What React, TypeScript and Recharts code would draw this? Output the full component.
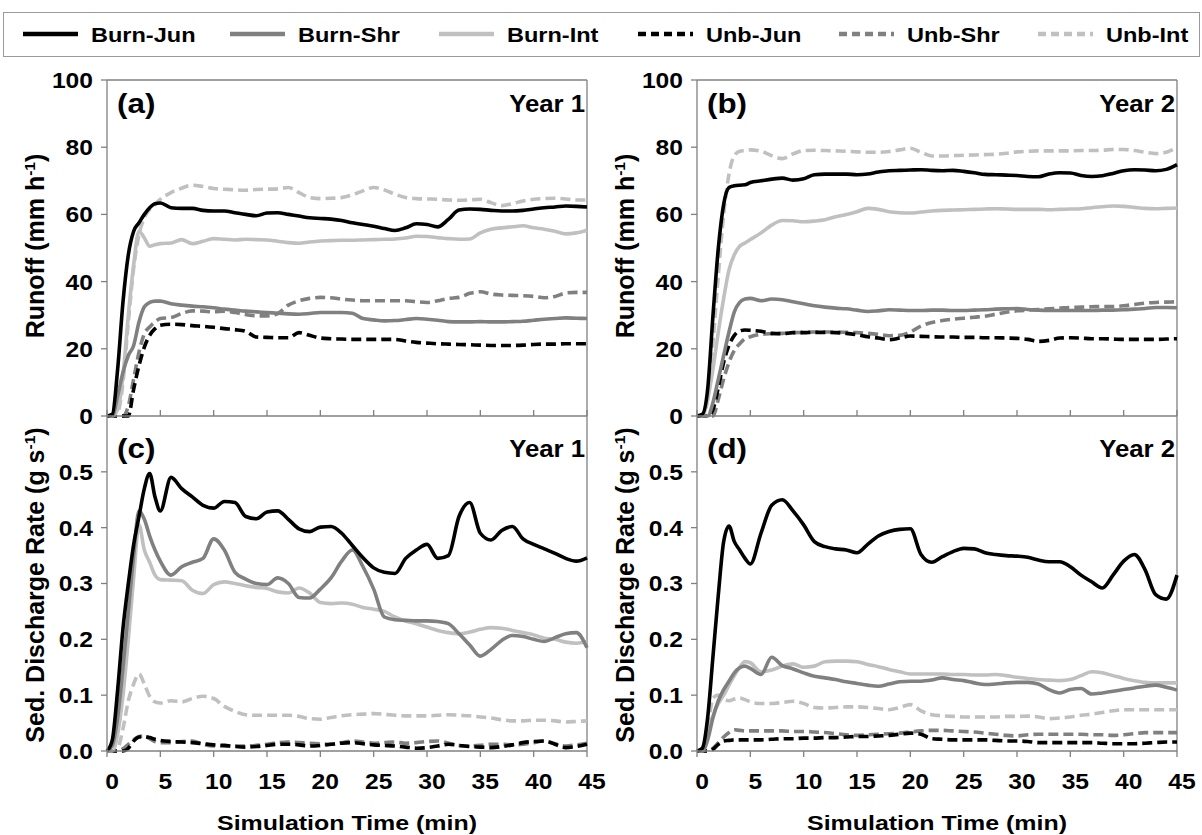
import React from 'react';
import { LineChart, Line, XAxis, YAxis, ReferenceLine } from 'recharts';

// simulation time (min)
const times = [0, 0.5, 1, 1.5, 2, 2.5, 3, 3.5, 4, 4.5, 5,
  6, 7, 8, 9, 10, 11, 12, 13, 14, 15,
  16, 17, 18, 19, 20, 21, 22, 23, 24, 25,
  26, 27, 28, 29, 30, 31, 32, 33, 34, 35,
  36, 37, 38, 39, 40, 41, 42, 43, 44, 45];

const xTicks = [0, 5, 10, 15, 20, 25, 30, 35, 40, 45];
const runoffTicks = [0, 20, 40, 60, 80, 100];
const sedTicks = [0, 0.1, 0.2, 0.3, 0.4, 0.5];

// (a) runoff, year 1 (mm/h)
const burnJunA = [0, 0.5, 14, 34, 48, 55, 57.5, 60, 62, 63.2, 63.4,
  62, 61.8, 61.8, 61.2, 61, 61, 60.5, 60, 59.6, 60.4,
  60.5, 60, 59.5, 59, 58.8, 58.6, 58.2, 57.5, 57, 56.5,
  55.8, 55.2, 56, 57.2, 57, 56.3, 58.5, 61.3, 61.6, 61.5,
  61.2, 61, 61, 61.2, 61.6, 62, 62.2, 62.5, 62.4, 62.2];
const burnShrA = [0, 0, 6, 13, 18, 21, 28, 32.5, 33.8, 34.2, 34.2,
  33.4, 33, 32.7, 32.5, 32.2, 31.8, 31.5, 31.2, 31, 30.8,
  30.6, 30.4, 30.3, 30.5, 30.8, 30.8, 30.8, 30.6, 29, 28.6,
  28.3, 28.4, 28.7, 29, 28.8, 28.5, 28.1, 28, 28, 28.1,
  28, 28, 28.1, 28.2, 28.5, 28.8, 29, 29.2, 29.1, 29];
const burnIntA = [0, 0, 2, 12, 30, 45, 55, 53, 50.5, 51, 51.3,
  51.5, 52.5, 51.3, 52, 52.8, 52.6, 52.4, 52.6, 52.5, 52.4,
  52, 51.6, 51.4, 51.8, 52.1, 52.2, 52.3, 52.3, 52.4, 52.5,
  52.6, 52.7, 53, 53.5, 53.4, 53.1, 52.8, 52.6, 52.7, 54.5,
  55.6, 56, 56.3, 56.6, 56, 55.6, 55, 54.2, 54.5, 55.3];
const unbJunA = [0, 0, 0, 0, 0, 8, 15, 20.5, 24, 26, 27,
  27.3, 27.2, 26.9, 26.7, 26.4, 26, 25.7, 25.2, 23.5, 23.4,
  23.3, 23.3, 24.8, 24, 23.2, 23, 22.9, 22.8, 22.8, 22.8,
  22.8, 22.8, 22.3, 21.9, 21.7, 21.5, 21.4, 21.3, 21.2, 21.1,
  21, 21, 21, 21.1, 21.3, 21.4, 21.4, 21.5, 21.5, 21.5];
const unbShrA = [0, 0, 0, 0, 3, 11, 19, 24.5, 26.5, 28, 29,
  29.3, 30.5, 31.3, 31.2, 31, 31.2, 30.8, 30.2, 29.8, 29.8,
  30.5, 33, 34.3, 35, 35.3, 35.2, 34.8, 34.5, 34.3, 34.3,
  34.3, 34.3, 34.3, 34, 33.8, 34.3, 35, 35.3, 36.5, 37,
  36.3, 36, 35.9, 35.8, 35.6, 35.2, 35.6, 36.6, 36.8, 36.8];
const unbIntA = [0, 0, 1, 10, 28, 44, 54, 59, 61.5, 63, 64.5,
  66.5, 67.8, 68.7, 68.3, 67.7, 67.5, 67.3, 67.2, 67.4, 67.5,
  67.6, 68, 66.5, 65, 64.7, 64.8, 65, 65.8, 67, 68,
  67.3, 66, 65, 64.7, 64.6, 64.5, 64.3, 64.2, 64.3, 64.5,
  63.5, 62.6, 63.2, 64, 64.5, 64.7, 64.8, 64.6, 64.3, 64.3];

// (b) runoff, year 2 (mm/h)
const burnJunB = [0, 0.5, 8, 30, 50, 63, 68, 68.5, 68.7, 68.8, 69.5,
  70, 70.5, 70.8, 70.2, 70.6, 71.8, 72, 72, 72, 71.8,
  72, 72.6, 73, 73.1, 73.2, 73.3, 73.1, 73, 73.1, 72.8,
  72.4, 71.9, 71.8, 71.7, 71.6, 71.3, 71.2, 72, 72.4, 72.3,
  71.6, 71.3, 71.5, 72.2, 73, 73.3, 73.2, 73, 73.4, 74.8];
const burnShrB = [0, 0, 0, 4, 11, 18, 25, 31, 33.8, 34.8, 35,
  34.3, 34.8, 34.6, 34, 33.4, 32.8, 32.4, 32.1, 31.9, 31.5,
  31.1, 31.3, 31.6, 31.5, 31.4, 31.4, 31.5, 31.5, 31.4, 31.4,
  31.5, 31.6, 31.8, 31.9, 32, 31.7, 31.5, 31.4, 31.4, 31.4,
  31.4, 31.4, 31.5, 31.5, 31.6, 31.8, 32, 32.3, 32.3, 32.2];
const burnIntB = [0, 0, 5, 14, 25, 35, 43.5, 48, 50.5, 51.5, 52.5,
  54.5, 56.8, 58.2, 58.1, 57.8, 58, 58.4, 59.3, 60, 60.8,
  61.8, 61.5, 60.8, 60.5, 60.4, 60.7, 61, 61.2, 61.3, 61.4,
  61.5, 61.6, 61.7, 61.6, 61.5, 61.5, 61.5, 61.4, 61.5, 61.6,
  61.7, 62, 62.3, 62.5, 62.4, 62.1, 61.8, 61.7, 61.8, 61.9];
const unbJunB = [0, 0, 0, 2, 8.5, 16, 21, 24, 25.3, 25.6, 25.5,
  25.2, 24.6, 24.5, 24.8, 24.8, 24.9, 24.9, 24.8, 24.6, 24.2,
  23.6, 23.2, 22.7, 23.2, 23.8, 23.7, 23.6, 23.5, 23.5, 23.4,
  23.4, 23.3, 23.3, 23.2, 23.1, 22.8, 22.2, 22.5, 23.2, 23.3,
  23.2, 23, 23, 22.9, 22.8, 22.8, 22.8, 22.8, 22.9, 23];
const unbShrB = [0, 0, 0, 0, 5, 11, 16, 19.5, 21.5, 23, 23.6,
  24.3, 24.5, 24.6, 24.8, 24.9, 25, 25, 25, 24.9, 24.8,
  24.6, 24.3, 23.9, 24, 25, 26.8, 27.8, 28.4, 28.8, 29.1,
  29.4, 29.7, 30.3, 30.9, 31.3, 31.5, 31.7, 31.9, 32.1, 32.3,
  32.4, 32.5, 32.6, 32.6, 32.8, 33.2, 33.6, 33.8, 33.9, 34];
const unbIntB = [0, 0, 5, 22, 42, 60, 72, 77.5, 78.8, 79, 79.2,
  78.8, 77.5, 76.6, 78, 79, 79.1, 79, 78.9, 78.8, 78.6,
  78.5, 78.5, 78.7, 79.2, 79.7, 78.5, 77.4, 77.4, 77.5, 77.6,
  77.7, 77.8, 77.9, 78.2, 78.6, 78.8, 78.9, 78.9, 78.9, 78.9,
  79, 79, 79.1, 79.3, 79.3, 79, 78.5, 78.1, 78.5, 79.9];

// (c) sediment discharge, year 1 (g/s)
const burnJunC = [0, 0.02, 0.11, 0.22, 0.3, 0.37, 0.42, 0.47, 0.497, 0.455, 0.43,
  0.49, 0.47, 0.455, 0.44, 0.435, 0.447, 0.445, 0.42, 0.416, 0.428,
  0.43, 0.415, 0.398, 0.393, 0.401, 0.402, 0.39, 0.368, 0.346, 0.328,
  0.32, 0.318, 0.345, 0.36, 0.37, 0.345, 0.35, 0.42, 0.445, 0.39,
  0.378, 0.395, 0.402, 0.38, 0.37, 0.362, 0.354, 0.345, 0.34, 0.346];
const burnShrC = [0, 0.01, 0.06, 0.15, 0.25, 0.35, 0.43, 0.415, 0.385, 0.36, 0.34,
  0.315, 0.33, 0.338, 0.345, 0.38, 0.36, 0.32, 0.308, 0.3, 0.298,
  0.31, 0.3, 0.275, 0.274, 0.29, 0.31, 0.34, 0.36, 0.33, 0.29,
  0.24, 0.235, 0.234, 0.233, 0.233, 0.232, 0.228, 0.21, 0.19, 0.17,
  0.182, 0.198, 0.207, 0.205, 0.2, 0.196, 0.203, 0.21, 0.212, 0.185];
const burnIntC = [0, 0, 0.03, 0.1, 0.2, 0.31, 0.405, 0.36, 0.338, 0.315, 0.307,
  0.306, 0.305, 0.288, 0.282, 0.298, 0.303, 0.3, 0.296, 0.293, 0.291,
  0.285, 0.283, 0.292, 0.283, 0.266, 0.264, 0.265, 0.263, 0.257, 0.254,
  0.25, 0.24, 0.233, 0.228, 0.222, 0.216, 0.212, 0.21, 0.213, 0.218,
  0.221, 0.22, 0.216, 0.212, 0.208, 0.202, 0.2, 0.195, 0.193, 0.196];
const unbJunC = [0, 0, 0, 0, 0.005, 0.018, 0.025, 0.026, 0.024, 0.021, 0.019,
  0.017, 0.016, 0.015, 0.013, 0.011, 0.01, 0.008, 0.007, 0.008, 0.01,
  0.012, 0.012, 0.011, 0.009, 0.01, 0.012, 0.014, 0.015, 0.013, 0.011,
  0.01, 0.009, 0.007, 0.005, 0.006, 0.009, 0.012, 0.01, 0.008, 0.007,
  0.006, 0.008, 0.011, 0.015, 0.017, 0.018, 0.012, 0.006, 0.008, 0.012];
const unbShrC = [0, 0, 0, 0.004, 0.012, 0.02, 0.026, 0.027, 0.022, 0.017, 0.015,
  0.015, 0.017, 0.018, 0.012, 0.009, 0.009, 0.009, 0.009, 0.01, 0.012,
  0.015, 0.016, 0.015, 0.014, 0.013, 0.012, 0.015, 0.018, 0.016, 0.014,
  0.015, 0.016, 0.014, 0.015, 0.017, 0.018, 0.014, 0.01, 0.009, 0.01,
  0.012, 0.012, 0.011, 0.012, 0.015, 0.018, 0.013, 0.009, 0.011, 0.014];
const unbIntC = [0, 0, 0.005, 0.04, 0.09, 0.12, 0.138, 0.12, 0.098, 0.088, 0.086,
  0.09, 0.088, 0.094, 0.098, 0.094, 0.08, 0.071, 0.065, 0.064, 0.064,
  0.064, 0.064, 0.062, 0.058, 0.057, 0.06, 0.063, 0.065, 0.066, 0.067,
  0.066, 0.064, 0.063, 0.063, 0.063, 0.064, 0.065, 0.064, 0.063, 0.061,
  0.059, 0.056, 0.054, 0.054, 0.055, 0.055, 0.054, 0.052, 0.053, 0.054];

// (d) sediment discharge, year 2 (g/s)
const burnJunD = [0, 0.005, 0.06, 0.17, 0.28, 0.375, 0.403, 0.375, 0.36, 0.345, 0.335,
  0.39, 0.44, 0.45, 0.43, 0.405, 0.375, 0.366, 0.362, 0.36, 0.355,
  0.37, 0.385, 0.393, 0.397, 0.398, 0.352, 0.338, 0.348, 0.357, 0.363,
  0.362, 0.355, 0.352, 0.35, 0.349, 0.347, 0.342, 0.339, 0.339, 0.33,
  0.315, 0.303, 0.292, 0.315, 0.34, 0.352, 0.325, 0.28, 0.272, 0.315];
const burnShrD = [0, 0, 0.02, 0.06, 0.09, 0.11, 0.125, 0.14, 0.149, 0.152, 0.148,
  0.137, 0.168, 0.153, 0.147, 0.14, 0.134, 0.131, 0.128, 0.124, 0.121,
  0.118, 0.116, 0.12, 0.124, 0.125, 0.125, 0.127, 0.131, 0.128, 0.126,
  0.122, 0.119, 0.12, 0.122, 0.123, 0.123, 0.12, 0.11, 0.104, 0.11,
  0.112, 0.102, 0.104, 0.107, 0.11, 0.113, 0.116, 0.118, 0.114, 0.109];
const burnIntD = [0, 0, 0.03, 0.063, 0.085, 0.1, 0.118, 0.135, 0.15, 0.16, 0.158,
  0.142, 0.145, 0.152, 0.156, 0.15, 0.152, 0.16, 0.161, 0.161, 0.16,
  0.155, 0.151, 0.146, 0.142, 0.138, 0.138, 0.138, 0.138, 0.137, 0.137,
  0.136, 0.136, 0.137, 0.135, 0.132, 0.13, 0.128, 0.127, 0.126, 0.128,
  0.135, 0.142, 0.14, 0.135, 0.13, 0.126, 0.123, 0.122, 0.122, 0.122];
const unbJunD = [0, 0, 0, 0.003, 0.012, 0.018, 0.019, 0.02, 0.02, 0.02, 0.02,
  0.02, 0.021, 0.022, 0.022, 0.023, 0.023, 0.024, 0.024, 0.025, 0.026,
  0.026, 0.027, 0.028, 0.03, 0.032, 0.03, 0.022, 0.021, 0.02, 0.02,
  0.02, 0.02, 0.019, 0.018, 0.018, 0.017, 0.015, 0.015, 0.015, 0.015,
  0.015, 0.015, 0.014, 0.013, 0.013, 0.013, 0.014, 0.015, 0.016, 0.016];
const unbShrD = [0, 0, 0, 0.005, 0.015, 0.025, 0.033, 0.038, 0.037, 0.036, 0.036,
  0.036, 0.036, 0.036, 0.035, 0.035, 0.034, 0.033, 0.031, 0.029, 0.028,
  0.029, 0.03, 0.031, 0.032, 0.034, 0.036, 0.037, 0.037, 0.036, 0.035,
  0.034, 0.032, 0.03, 0.028, 0.027, 0.029, 0.03, 0.03, 0.03, 0.03,
  0.03, 0.029, 0.029, 0.028, 0.029, 0.031, 0.033, 0.033, 0.033, 0.033];
const unbIntD = [0, 0, 0.04, 0.095, 0.1, 0.092, 0.09, 0.093, 0.095, 0.092, 0.088,
  0.085, 0.085, 0.087, 0.089, 0.085, 0.078, 0.077, 0.078, 0.079, 0.079,
  0.078, 0.076, 0.074, 0.078, 0.083, 0.072, 0.065, 0.063, 0.062, 0.061,
  0.061, 0.061, 0.061, 0.062, 0.062, 0.0625, 0.061, 0.058, 0.059, 0.061,
  0.064, 0.066, 0.069, 0.072, 0.074, 0.074, 0.074, 0.074, 0.074, 0.074];

const FONT = '"Liberation Sans", Arial, Helvetica, sans-serif';
const SX = 1.12; // the source figure is a little wider than Arial

// legend order; drawing order is reversed so Burn-Jun ends up on top
const series = [
  { key: 'burnJun', name: 'Burn-Jun', color: '#000000', dash: undefined },
  { key: 'burnShr', name: 'Burn-Shr', color: '#808080', dash: undefined },
  { key: 'burnInt', name: 'Burn-Int', color: '#c0c0c0', dash: undefined },
  { key: 'unbJun', name: 'Unb-Jun', color: '#000000', dash: '10 5' },
  { key: 'unbShr', name: 'Unb-Shr', color: '#808080', dash: '10 5' },
  { key: 'unbInt', name: 'Unb-Int', color: '#c0c0c0', dash: '10 5' },
];

const buildRows = (bj: number[], bs: number[], bi: number[], uj: number[], us: number[], ui: number[]) =>
  times.map((t, i) => ({
    t,
    burnJun: bj[i], burnShr: bs[i], burnInt: bi[i],
    unbJun: uj[i], unbShr: us[i], unbInt: ui[i],
  }));

const rowsA = buildRows(burnJunA, burnShrA, burnIntA, unbJunA, unbShrA, unbIntA);
const rowsB = buildRows(burnJunB, burnShrB, burnIntB, unbJunB, unbShrB, unbIntB);
const rowsC = buildRows(burnJunC, burnShrC, burnIntC, unbJunC, unbShrC, unbIntC);
const rowsD = buildRows(burnJunD, burnShrD, burnIntD, unbJunD, unbShrD, unbIntD);

const stretch = (x: number, y: number) => `translate(${x} ${y}) scale(${SX} 1) translate(${-x} ${-y})`;

const yTick = (digits: number) => (props: any) => {
  const { x, y, payload } = props;
  return (
    <text x={x} y={y} dy="0.36em" textAnchor="end" fontSize={22} fontWeight="bold"
      fontFamily={FONT} fill="#000" transform={stretch(x, y)}>
      {Number(payload.value).toFixed(digits)}
    </text>
  );
};

const xTick = (props: any) => {
  const { x, y, payload } = props;
  return (
    <text x={x + 5} y={y} dy="0.71em" textAnchor="middle" fontSize={22} fontWeight="bold"
      fontFamily={FONT} fill="#000" transform={stretch(x + 5, y)}>
      {payload.value}
    </text>
  );
};

const noTick = () => <g />;

const AXIS = '#808080';

interface PanelProps {
  rows: any[];
  left: number;
  top: number;
  width: number;
  height: number;
  margin: { top: number; right: number; bottom: number; left: number };
  yMax: number;
  yTicks: number[];
  digits: number;
  bottom: boolean;
}

function Panel({ rows, left, top, width, height, margin, yMax, yTicks, digits, bottom }: PanelProps) {
  return (
    <div style={{ position: 'absolute', left, top }}>
      <LineChart width={width} height={height} data={rows} margin={margin}>
        <XAxis
          dataKey="t"
          type="number"
          domain={[0, 45]}
          ticks={xTicks}
          height={bottom ? 40 : 4}
          axisLine={{ stroke: AXIS, strokeWidth: 1.3 }}
          tickLine={{ stroke: AXIS, strokeWidth: 1.3 }}
          tickSize={bottom ? 6 : -6}
          tickMargin={bottom ? 16 : 0}
          tick={bottom ? xTick : noTick}
        />
        <YAxis
          type="number"
          domain={[0, yMax]}
          ticks={yTicks}
          width={60}
          axisLine={{ stroke: AXIS, strokeWidth: 1.3 }}
          tickLine={{ stroke: AXIS, strokeWidth: 1.3 }}
          tickSize={6}
          tickMargin={8}
          tick={yTick(digits)}
        />
        {!bottom && <ReferenceLine y={yMax} stroke={AXIS} strokeWidth={1.3} />}
        <ReferenceLine x={45} stroke={AXIS} strokeWidth={1.3} />
        {[...series].reverse().map((s) => (
          <Line
            key={s.key}
            type="monotone"
            dataKey={s.key}
            name={s.name}
            stroke={s.color}
            strokeWidth={3.6}
            strokeDasharray={s.dash}
            dot={false}
            activeDot={false}
            isAnimationActive={false}
          />
        ))}
      </LineChart>
    </div>
  );
}

const bold: React.CSSProperties = {
  position: 'absolute',
  fontFamily: FONT,
  fontWeight: 'bold',
  color: '#000',
  whiteSpace: 'nowrap',
  lineHeight: 1,
};

function YTitle({ cx, cy, children }: { cx: number; cy: number; children: React.ReactNode }) {
  return (
    <div style={{ ...bold, left: cx, top: cy, fontSize: 25, transform: 'translate(-50%, -50%) rotate(-90deg)' }}>
      {children}
    </div>
  );
}

function XTitle({ cx, cy }: { cx: number; cy: number }) {
  return (
    <div style={{ ...bold, left: cx, top: cy, fontSize: 21, transform: `translate(-50%, -50%) scaleX(${SX * 1.06})` }}>
      Simulation Time (min)
    </div>
  );
}

function Tag({ x, cy, text }: { x: number; cy: number; text: string }) {
  return (
    <div style={{ ...bold, left: x, top: cy, fontSize: 28, transformOrigin: 'left center', transform: `translateY(-50%) scaleX(${SX})` }}>
      {text}
    </div>
  );
}

function YearLabel({ right, cy, text }: { right: number; cy: number; text: string }) {
  return (
    <div style={{ ...bold, left: right, top: cy, fontSize: 23, transformOrigin: 'left center', transform: `translate(-100%, -50%) scaleX(${SX})` }}>
      {text}
    </div>
  );
}

const legendLineX = [21, 228, 437, 636, 837, 1036];

function LegendBox() {
  return (
    <div style={{ position: 'absolute', left: 3, top: 12, width: 1197, height: 45, border: '1.5px solid #9a9a9a', boxSizing: 'border-box' }}>
      {series.map((s, i) => (
        <div key={s.key} style={{ position: 'absolute', left: legendLineX[i] - 3, top: 0, height: 42, display: 'flex', alignItems: 'center' }}>
          <svg width={57} height={10}>
            <line x1={1} y1={5} x2={56} y2={5} stroke={s.color} strokeWidth={4.5} strokeDasharray={s.dash ? '8 5' : undefined} />
          </svg>
          <span style={{ ...bold, position: 'static', marginLeft: 12, fontSize: 21, display: 'inline-block', transformOrigin: 'left center', transform: `scaleX(${SX})` }}>
            {s.name}
          </span>
        </div>
      ))}
    </div>
  );
}

const runoffTitle = (
  <>Runoff (mm h<sup style={{ fontSize: '0.62em' }}>-1</sup>)</>
);
const sedTitle = (
  <>Sed. Discharge Rate (g s<sup style={{ fontSize: '0.62em' }}>-1</sup>)</>
);

export default function App() {
  // plot areas: (a)/(c) x 107..587, (b)/(d) x 697..1177; runoff y 80..416, sediment y 416..751
  const topMarginL = { top: 80, right: 33, bottom: 20, left: 47 };
  const topMarginR = { top: 80, right: 25, bottom: 20, left: 37 };
  const botMarginL = { top: 0, right: 33, bottom: 44, left: 47 };
  const botMarginR = { top: 0, right: 25, bottom: 44, left: 37 };
  return (
    <div style={{ position: 'absolute', left: 0, top: 0, width: 1202, height: 835, background: '#fff', overflow: 'hidden' }}>
      <LegendBox />
      <Panel rows={rowsA} left={0} top={0} width={620} height={440} margin={topMarginL} yMax={100} yTicks={runoffTicks} digits={0} bottom={false} />
      <Panel rows={rowsB} left={600} top={0} width={602} height={440} margin={topMarginR} yMax={100} yTicks={runoffTicks} digits={0} bottom={false} />
      <Panel rows={rowsC} left={0} top={416} width={620} height={419} margin={botMarginL} yMax={0.6} yTicks={sedTicks} digits={1} bottom />
      <Panel rows={rowsD} left={600} top={416} width={602} height={419} margin={botMarginR} yMax={0.6} yTicks={sedTicks} digits={1} bottom />

      <YTitle cx={35} cy={246}>{runoffTitle}</YTitle>
      <YTitle cx={625} cy={246}>{runoffTitle}</YTitle>
      <YTitle cx={35} cy={585}>{sedTitle}</YTitle>
      <YTitle cx={625} cy={585}>{sedTitle}</YTitle>

      <Tag x={117} cy={104} text="(a)" />
      <Tag x={707} cy={104} text="(b)" />
      <Tag x={117} cy={449} text="(c)" />
      <Tag x={707} cy={449} text="(d)" />
      <YearLabel right={577} cy={104} text="Year 1" />
      <YearLabel right={1167} cy={104} text="Year 2" />
      <YearLabel right={577} cy={449} text="Year 1" />
      <YearLabel right={1167} cy={449} text="Year 2" />

      <XTitle cx={347} cy={822} />
      <XTitle cx={937} cy={822} />
    </div>
  );
}
